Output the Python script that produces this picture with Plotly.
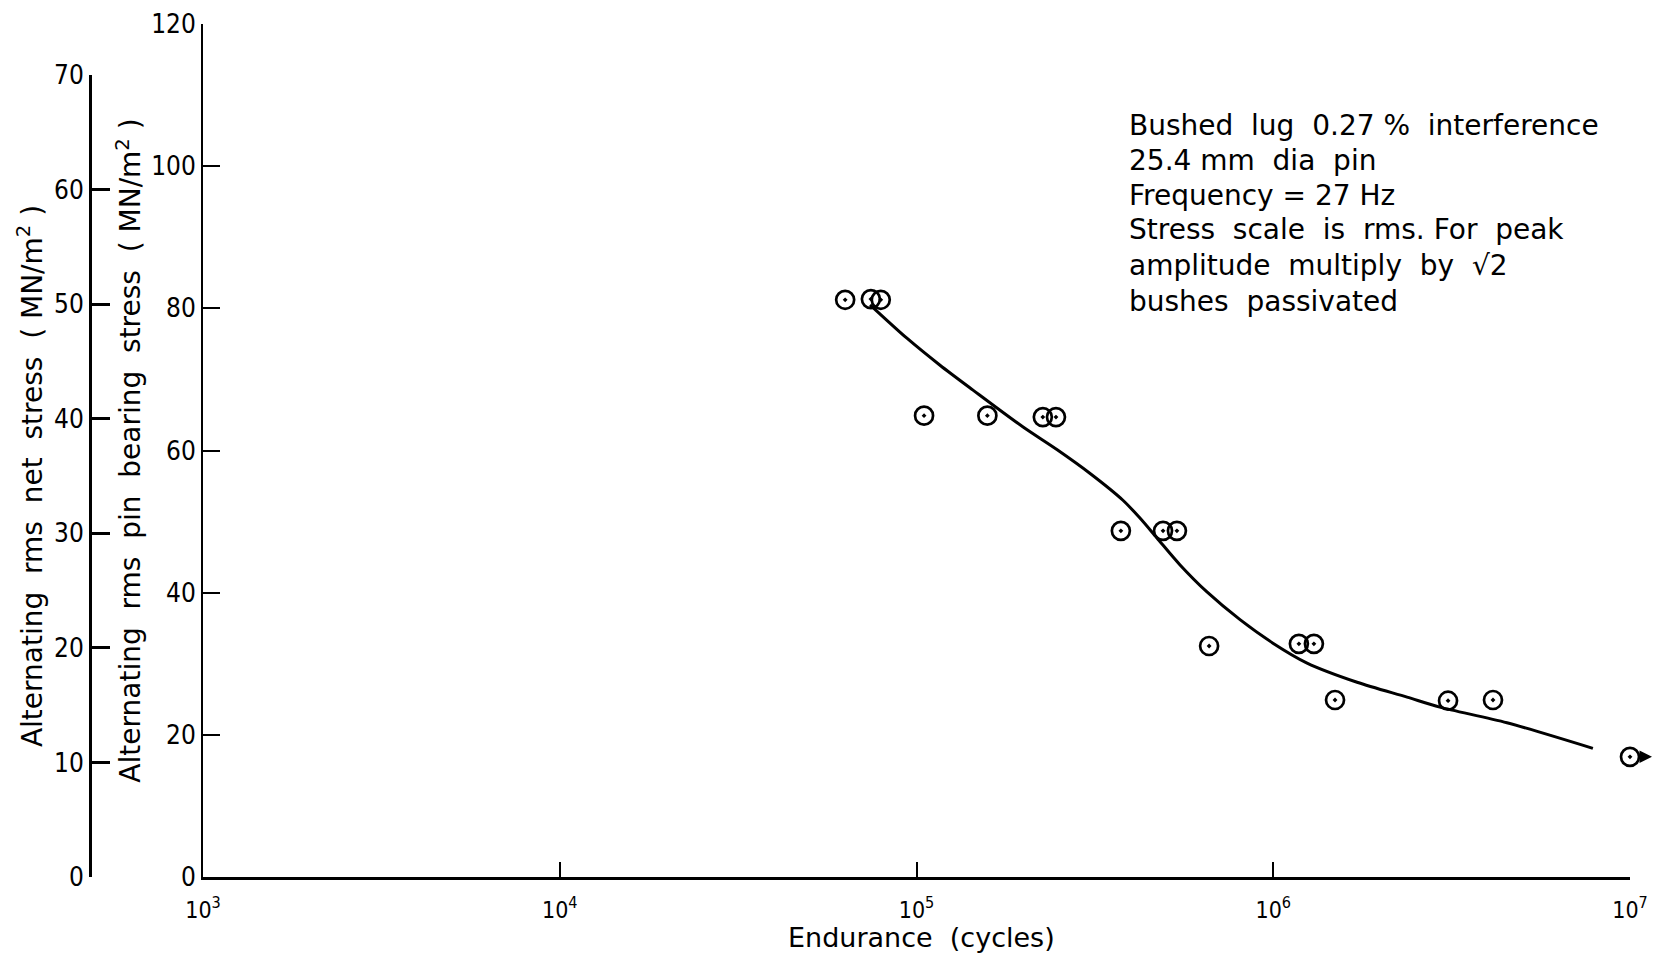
import plotly.graph_objects as go

# ---- data ----
endurance_cycles = [6.31e4, 7.45e4, 7.94e4, 1.05e5, 1.58e5, 2.26e5, 2.46e5,
                    3.74e5, 4.91e5, 5.37e5, 6.61e5, 1.18e6, 1.30e6,
                    1.49e6, 3.09e6, 4.13e6, 1.0e7]
bearing_stress = [81.2, 81.3, 81.2, 64.9, 64.9, 64.7, 64.7,
                  48.7, 48.7, 48.7, 32.5, 32.8, 32.8,
                  24.9, 24.8, 24.9, 16.9]

curve_cycles = [7.41e4, 9.40e4, 1.164e5, 1.44e5, 1.99e5, 2.48e5, 3.06e5, 3.79e5,
                4.23e5, 4.72e5, 5.48e5, 6.52e5, 8.07e5, 9.98e5, 1.244e6,
                1.718e6, 2.372e6, 2.93e6, 4.52e6, 7.87e6]
curve_stress = [80.5, 75.8, 72.0, 68.5, 63.3, 60.1, 56.8, 53.0,
                50.5, 47.7, 43.9, 40.1, 36.2, 32.9, 30.1,
                27.4, 25.3, 23.9, 21.7, 18.1]

x_tickvals = [1e3, 1e4, 1e5, 1e6, 1e7]
x_ticktext = ["10<sup>3</sup>", "10<sup>4</sup>", "10<sup>5</sup>", "10<sup>6</sup>", "10<sup>7</sup>"]
bearing_ticks = [0, 20, 40, 60, 80, 100, 120]
net_ticks = [0, 10, 20, 30, 40, 50, 60, 70]

x_title = "Endurance  (cycles)"
note_lines = [
    "Bushed  lug  0.27 %  interference",
    "25.4 mm  dia  pin",
    "Frequency = 27 Hz",
    "Stress  scale  is  rms. For  peak",
    "amplitude  multiply  by  √2",
    "bushes  passivated",
]
note_line_y = [125, 161, 195, 229, 265, 301]  # page pixel centres of the lines

TEXT_FONT = "DejaVu Sans, Liberation Sans, sans-serif"
NUM_FONT = "DejaVu Sans Condensed, Liberation Sans Narrow, DejaVu Sans"

# page has an 8px body margin around the plot div
OFF = 8
W, H = 1662 - 2 * OFF, 963 - 2 * OFF
L = 60 - OFF
T = 24 - OFF
R = W - (1630 - OFF)
B = H - (877 - OFF)
plot_w = W - L - R
plot_h = H - T - B


def fx(page_x):
    return (page_x - OFF - L) / plot_w


def fy(page_y):
    return 1 - (page_y - OFF - T) / plot_h


fig = go.Figure()
fig.add_trace(go.Scatter(x=curve_cycles, y=curve_stress, mode="lines",
                         line=dict(color="black", width=3, shape="spline", smoothing=0.8),
                         hoverinfo="skip", showlegend=False))
fig.add_trace(go.Scatter(x=endurance_cycles, y=bearing_stress, mode="markers",
                         marker=dict(symbol="circle-open-dot", size=18, color="black",
                                     line=dict(color="black", width=2.7)),
                         showlegend=False, cliponaxis=False))
# invisible trace to register the net-stress axis
fig.add_trace(go.Scatter(x=[1e3], y=[0], yaxis="y2", mode="markers",
                         marker=dict(opacity=0), hoverinfo="skip", showlegend=False))

fig.update_layout(
    width=W, height=H,
    margin=dict(l=L, r=R, t=T, b=B),
    paper_bgcolor="white", plot_bgcolor="rgba(0,0,0,0)",
    font=dict(family=TEXT_FONT, color="black", size=28),
    xaxis=dict(type="log", range=[3, 7], domain=[fx(203), 1],
               tickvals=x_tickvals, ticktext=x_ticktext,
               ticks="inside", ticklen=15, tickwidth=2, tickcolor="black",
               showline=True, linecolor="black", linewidth=3,
               showgrid=False, zeroline=False,
               tickfont=dict(size=23, family=NUM_FONT), ticklabelstandoff=10,
               automargin=False),
    yaxis=dict(range=[0, 120], tickvals=bearing_ticks,
               ticks="inside", ticklen=17, tickwidth=2, tickcolor="black",
               showline=True, linecolor="black", linewidth=2,
               showgrid=False, zeroline=False,
               tickfont=dict(size=26, family=NUM_FONT),
               title=dict(text="Alternating  rms  pin  bearing  stress  ( MN/m<sup>2</sup> )",
                          font=dict(size=28), standoff=2),
               automargin=False),
    yaxis2=dict(range=[0, 70], domain=[0, fy(75)],
                anchor="free", position=fx(90), side="left",
                tickvals=net_ticks,
                ticks="inside", ticklen=18, tickwidth=2.5, tickcolor="black",
                showline=True, linecolor="black", linewidth=3,
                showgrid=False, zeroline=False,
                tickfont=dict(size=26, family=NUM_FONT),
                title=dict(text="Alternating  rms  net  stress  ( MN/m<sup>2</sup> )",
                           font=dict(size=28), standoff=2),
                automargin=False),
)

# x-axis title (annotation so it can sit as low as the reference's)
fig.add_annotation(xref="paper", yref="paper", x=fx(921), y=fy(954),
                   xanchor="center", yanchor="bottom", showarrow=False, borderpad=0,
                   text=x_title, font=dict(size=27, family=TEXT_FONT))

for line_text, line_y in zip(note_lines, note_line_y):
    fig.add_annotation(xref="paper", yref="paper", x=fx(1127), y=fy(line_y),
                       xanchor="left", yanchor="middle", align="left", showarrow=False,
                       text=line_text, font=dict(size=28, family=TEXT_FONT))

# run-out arrow on the last point
fig.add_annotation(x=fx(1652), y=bearing_stress[-1], xref="paper", yref="y",
                   ax=-12, ay=0, text="", showarrow=True,
                   arrowhead=2, arrowsize=1, arrowwidth=2.5, arrowcolor="black")

fig.write_html("out.html")
